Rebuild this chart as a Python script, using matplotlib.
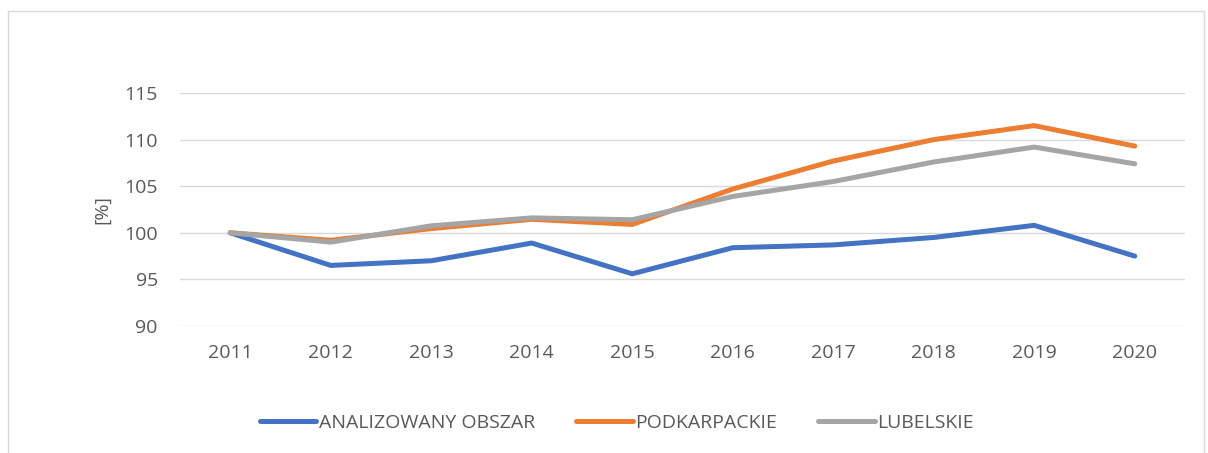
import matplotlib.pyplot as plt
from matplotlib.patches import Rectangle

years = ["2011", "2012", "2013", "2014", "2015", "2016", "2017", "2018", "2019", "2020"]
obszar = [100.0, 96.5, 97.0, 98.9, 95.6, 98.4, 98.7, 99.5, 100.8, 97.5]
podkarpackie = [100.0, 99.2, 100.45, 101.45, 100.9, 104.7, 107.7, 110.0, 111.5, 109.3]
lubelskie = [100.0, 99.0, 100.75, 101.6, 101.4, 103.9, 105.5, 107.6, 109.2, 107.4]

series = [
    ("ANALIZOWANY OBSZAR", obszar, "#4472C4"),
    ("PODKARPACKIE", podkarpackie, "#ED7D31"),
    ("LUBELSKIE", lubelskie, "#A5A5A5"),
]

plt.rcParams["font.family"] = ["Open Sans", "DejaVu Sans"]
txt = "#595959"

fig = plt.figure(figsize=(12.08, 4.53), dpi=100)
fig.patches.append(Rectangle((8 / 1208, -0.05), 1196 / 1208, 1.05 - 11 / 453,
                             transform=fig.transFigure, fill=False,
                             edgecolor="#D9D9D9", linewidth=1))

ax = fig.add_axes([180 / 1208, 1 - 326 / 453, 1005 / 1208, 233 / 453])
x = list(range(len(years)))
for name, vals, col in series:
    ax.plot(x, vals, color=col, linewidth=3.6, solid_capstyle="round",
            solid_joinstyle="round", label=name)

ax.set_xlim(-0.5, len(years) - 0.5)
ax.set_ylim(90, 115)
ax.set_yticks([90, 95, 100, 105, 110, 115])
ax.set_xticks(x)
ax.set_xticklabels(years)
ax.grid(axis="y", color="#D9D9D9", linewidth=1)
ax.set_axisbelow(True)
for s in ax.spines.values():
    s.set_visible(False)
ax.tick_params(length=0, labelsize=14, colors=txt)
ax.tick_params(axis="x", pad=13)
ax.tick_params(axis="y", pad=16)
ax.set_ylabel("[%]", fontsize=14, color=txt, labelpad=9)

leg = fig.legend(loc="center", bbox_to_anchor=(617 / 1208, 1 - 423 / 453), ncol=3,
                 frameon=False, fontsize=14, handlelength=2.9, handletextpad=0.15,
                 columnspacing=2.1)
for t in leg.get_texts():
    t.set_color(txt)

fig.savefig("out.png", dpi=100)
